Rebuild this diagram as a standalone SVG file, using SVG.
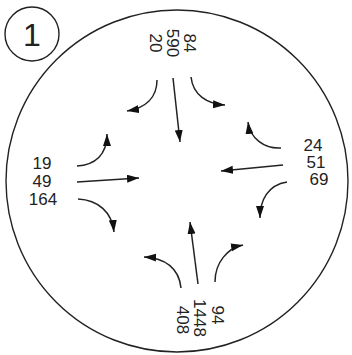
<svg xmlns="http://www.w3.org/2000/svg" width="352" height="355" viewBox="0 0 352 355">
<style>
.t{font-family:"Liberation Sans",Arial,sans-serif;font-size:17px;fill:#222;text-anchor:middle}
.c{fill:none;stroke:#222;stroke-width:1.4}
.a{fill:none;stroke:#222;stroke-width:1.5;marker-end:url(#ah)}
</style>
<defs>
<marker id="ah" markerUnits="userSpaceOnUse" markerWidth="13" markerHeight="9" refX="12" refY="4" orient="auto">
<path d="M0,0 L12,4 L0,8 z" fill="#111"/>
</marker>
</defs>
<rect width="352" height="355" fill="#fff"/>
<g id="frame">
<circle class="c" cx="177" cy="181" r="171"/>
</g>
<g id="badge">
<circle class="c" cx="32" cy="34" r="27"/>
<text class="t" x="32" y="46" style="font-size:32px">1</text>
</g>
<g id="north">
<text class="t" transform="translate(190,43) rotate(90)" y="6">84</text>
<text class="t" transform="translate(173,43) rotate(90)" y="6">590</text>
<text class="t" transform="translate(156,43) rotate(90)" y="6">20</text>
</g>
<g id="west">
<text class="t" x="42" y="169">19</text>
<text class="t" x="42" y="187">49</text>
<text class="t" x="43" y="205">164</text>
</g>
<g id="east">
<text class="t" x="313" y="151">24</text>
<text class="t" x="316" y="168">51</text>
<text class="t" x="319" y="185">69</text>
</g>
<g id="south">
<text class="t" transform="translate(218,315) rotate(90)" y="6">94</text>
<text class="t" transform="translate(200,318) rotate(90)" y="6">1448</text>
<text class="t" transform="translate(183,320) rotate(90)" y="6">408</text>
</g>
<g id="connectors">
<path class="a" d="M157,80 C157,98 145,108 127,111"/>
<path class="a" d="M173,78 L180,142"/>
<path class="a" d="M191,77 C193,95 207,104 225,105"/>
<path class="a" d="M77,166 C95,165 107,155 107,134"/>
<path class="a" d="M77,182 L139,178"/>
<path class="a" d="M78,199 C98,200 112,212 114,232"/>
<path class="a" d="M281,148 C264,149 250,138 248,122"/>
<path class="a" d="M283,165 L221,171"/>
<path class="a" d="M287,182 C268,185 260,200 260,218"/>
<path class="a" d="M198,284 L190,222"/>
<path class="a" d="M181,288 C179,268 165,258 144,257"/>
<path class="a" d="M215,282 C215,262 228,248 243,245"/>
</g>
</svg>
